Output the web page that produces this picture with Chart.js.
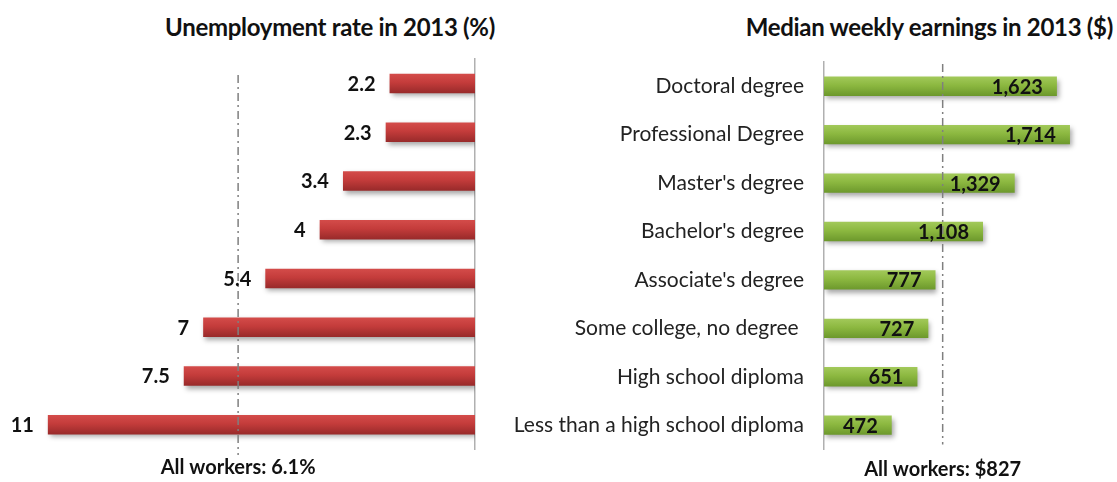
<!DOCTYPE html>
<html>
<head>
<meta charset="utf-8">
<script src="https://cdn.jsdelivr.net/npm/chart.js@4.4.1/dist/chart.umd.min.js"></script>
<style>
  html, body { margin: 0; padding: 0; background: #fff; }
  body { width: 1117px; height: 482px; position: relative; overflow: hidden; font-family: Lato, sans-serif; }
  .title { position: absolute; top: 13px; line-height: 28px; font-weight: bold; font-size: 24px; color: #111; white-space: nowrap; letter-spacing: -0.3px; }
  #title-left { right: 622px; }
  #title-right { right: 4px; }
  #left-wrap { position: absolute; left: 0; top: 0; width: 480px; height: 482px; }
  #right-wrap { position: absolute; left: 480px; top: 0; width: 637px; height: 482px; }
</style>
</head>
<body>
<div class="title" id="title-left">Unemployment rate in 2013 (%)</div>
<div class="title" id="title-right">Median weekly earnings in 2013 ($)</div>
<div id="left-wrap"><canvas id="unemployment"></canvas></div>
<div id="right-wrap"><canvas id="earnings"></canvas></div>
<script>
const EDUCATION_LEVELS = [
  'Doctoral degree',
  'Professional Degree',
  "Master's degree",
  "Bachelor's degree",
  "Associate's degree",
  'Some college, no degree ',
  'High school diploma',
  'Less than a high school diploma'
]
const UNEMPLOYMENT_RATE = [2.2, 2.3, 3.4, 4, 5.4, 7, 7.5, 11]
const WEEKLY_EARNINGS = [1623, 1714, 1329, 1108, 777, 727, 651, 472]
const ALL_WORKERS_RATE = 6.1
const ALL_WORKERS_EARNINGS = 827

// vertical gradient + soft drop shadow on each bar
const barStyle = {
  id: 'barStyle',
  beforeDatasetsDraw (chart, args, opts) {
    const ctx = chart.ctx
    chart.getDatasetMeta(0).data.forEach(bar => {
      const top = bar.y - bar.height / 2
      const g = ctx.createLinearGradient(0, top, 0, top + bar.height)
      g.addColorStop(0, opts.top)
      g.addColorStop(0.45, opts.mid)
      g.addColorStop(1, opts.bottom)
      // options are shared between bars, so give each bar its own copy
      bar.options = { ...bar.options, backgroundColor: g }
    })
    ctx.save()
    ctx.shadowColor = 'rgba(0, 0, 0, 0.35)'
    ctx.shadowBlur = 5
    ctx.shadowOffsetX = 2
    ctx.shadowOffsetY = 3
  },
  afterDatasetsDraw (chart) {
    chart.ctx.restore()
  }
}

// dash-dot marker for the all-workers figure
const referenceLine = {
  id: 'referenceLine',
  afterDatasetsDraw (chart, args, opts) {
    const { ctx, chartArea } = chart
    const x = chart.scales.x.getPixelForValue(opts.value)
    ctx.save()
    ctx.strokeStyle = '#7f7f7f'
    ctx.lineWidth = 1.5
    ctx.setLineDash([8, 4, 2, 4])
    ctx.beginPath()
    ctx.moveTo(x, chartArea.top + opts.topInset)
    ctx.lineTo(x, chartArea.bottom + opts.bottomExtend)
    ctx.stroke()
    ctx.setLineDash([])
    ctx.font = 'bold 20px Lato'
    ctx.fillStyle = '#111'
    ctx.textAlign = 'center'
    ctx.textBaseline = 'middle'
    ctx.fillText(opts.label, x, opts.labelY)
    ctx.restore()
  }
}

const valueLabels = {
  id: 'valueLabels',
  afterDatasetsDraw (chart, args, opts) {
    const ctx = chart.ctx
    const values = chart.data.datasets[0].data
    ctx.save()
    ctx.font = 'bold 20px Lato'
    ctx.fillStyle = '#111'
    ctx.textAlign = 'right'
    ctx.textBaseline = 'middle'
    chart.getDatasetMeta(0).data.forEach((bar, i) => {
      ctx.fillText(opts.format(values[i]), bar.x + opts.offset, bar.y + 1)
    })
    ctx.restore()
  }
}

const PLUGINS = [barStyle, referenceLine, valueLabels]

function baseOptions () {
  return {
    indexAxis: 'y',
    responsive: true,
    maintainAspectRatio: false,
    animation: false,
    events: [],
    plugins: {
      legend: { display: false },
      tooltip: { enabled: false },
      title: { display: false }
    },
    datasets: {
      bar: { barPercentage: 0.4, categoryPercentage: 1.0, borderWidth: 0 }
    }
  }
}

const leftOptions = baseOptions()
leftOptions.layout = { padding: { top: 59, bottom: 33, left: 9, right: 0 } }
leftOptions.scales = {
  x: { display: false, reverse: true, min: 0, max: 12 },
  y: {
    position: 'right',
    grid: { display: false },
    border: { display: true, color: '#b0b0b0', width: 1.5 },
    ticks: { display: false },
    afterFit: (scale) => { scale.width = 5 }
  }
}
leftOptions.plugins.barStyle = { top: '#d44c4a', mid: '#c43c3b', bottom: '#982a2a' }
leftOptions.plugins.referenceLine = {
  value: ALL_WORKERS_RATE, topInset: 16, bottomExtend: 6, labelY: 468, label: 'All workers: 6.1%'
}
leftOptions.plugins.valueLabels = { offset: -14, format: (v) => String(v) }

new Chart(document.getElementById('unemployment'), {
  type: 'bar',
  data: {
    labels: EDUCATION_LEVELS,
    datasets: [{ data: UNEMPLOYMENT_RATE }]
  },
  options: leftOptions,
  plugins: PLUGINS
})

const rightOptions = baseOptions()
rightOptions.layout = { padding: { top: 62, bottom: 31, left: 0, right: 6 } }
rightOptions.scales = {
  x: { display: false, min: 0, max: 2000 },
  y: {
    position: 'left',
    grid: { display: false, drawTicks: false },
    border: { display: true, color: '#b0b0b0', width: 1.5 },
    ticks: {
      color: '#222',
      padding: 20,
      font: { family: 'Lato', size: 21 }
    },
    afterFit: (scale) => { scale.width = 344 }
  }
}
rightOptions.plugins.barStyle = { top: '#a2c95a', mid: '#8cb840', bottom: '#6c982c' }
rightOptions.plugins.referenceLine = {
  value: ALL_WORKERS_EARNINGS, topInset: 2, bottomExtend: -5, labelY: 470, label: 'All workers: $827'
}
rightOptions.plugins.valueLabels = { offset: -14, format: (v) => v.toLocaleString('en-US') }

new Chart(document.getElementById('earnings'), {
  type: 'bar',
  data: {
    labels: EDUCATION_LEVELS,
    datasets: [{ data: WEEKLY_EARNINGS }]
  },
  options: rightOptions,
  plugins: PLUGINS
})
</script>
</body>
</html>
